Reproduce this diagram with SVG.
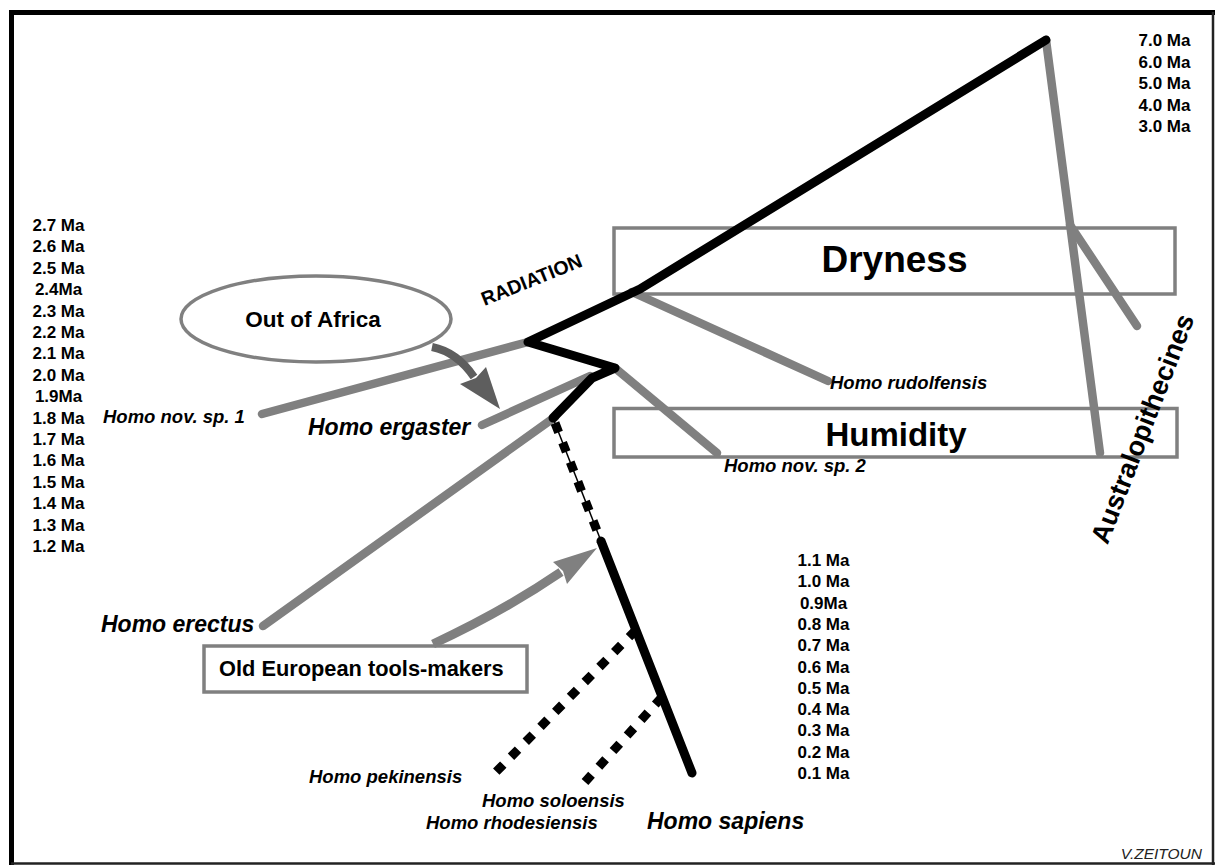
<svg xmlns="http://www.w3.org/2000/svg" width="1215" height="865" viewBox="0 0 1215 865">
<style>
.t{font-family:"Liberation Sans",Arial,Helvetica,sans-serif;font-weight:bold;fill:#000}
.d{font-size:17px;text-anchor:middle}
.i{font-style:italic}
.s{font-size:18.5px}
.l{font-size:23px}
.box{fill:#fff;stroke:#808080;stroke-width:3.5}
.g{fill:none;stroke:#808080;stroke-width:8.5;stroke-linecap:round}
.k{fill:none;stroke:#000;stroke-width:9;stroke-linecap:round;stroke-linejoin:round}
.dash{fill:none;stroke:#000;stroke-width:9;stroke-dasharray:10 11}
</style>
<rect width="1215" height="865" fill="#fff"/>
<g id="frame">
<path d="M11.5,865 L11.5,12.5 L1215,12.5" fill="none" stroke="#000" stroke-width="5"/>
<path d="M1213,12 L1213,865" stroke="#222" stroke-width="2.5"/>
<path d="M11,863.5 L1215,863.5" stroke="#222" stroke-width="2.5"/>
</g>

<g id="dates-top" class="t d">
<text x="1164.5" y="46">7.0 Ma</text>
<text x="1164.5" y="67.5">6.0 Ma</text>
<text x="1164.5" y="89">5.0 Ma</text>
<text x="1164.5" y="110.5">4.0 Ma</text>
<text x="1164.5" y="132">3.0 Ma</text>
</g>
<g id="dates-left" class="t d">
<text x="58.5" y="231">2.7 Ma</text>
<text x="58.5" y="252.4">2.6 Ma</text>
<text x="58.5" y="273.8">2.5 Ma</text>
<text x="58.5" y="295.2">2.4Ma</text>
<text x="58.5" y="316.6">2.3 Ma</text>
<text x="58.5" y="338">2.2 Ma</text>
<text x="58.5" y="359.4">2.1 Ma</text>
<text x="58.5" y="380.8">2.0 Ma</text>
<text x="58.5" y="402.2">1.9Ma</text>
<text x="58.5" y="423.6">1.8 Ma</text>
<text x="58.5" y="445">1.7 Ma</text>
<text x="58.5" y="466.4">1.6 Ma</text>
<text x="58.5" y="487.8">1.5 Ma</text>
<text x="58.5" y="509.2">1.4 Ma</text>
<text x="58.5" y="530.6">1.3 Ma</text>
<text x="58.5" y="552">1.2 Ma</text>
</g>
<g id="dates-bottom" class="t d">
<text x="823.5" y="566">1.1 Ma</text>
<text x="823.5" y="587.3">1.0 Ma</text>
<text x="823.5" y="608.6">0.9Ma</text>
<text x="823.5" y="629.9">0.8 Ma</text>
<text x="823.5" y="651.2">0.7 Ma</text>
<text x="823.5" y="672.5">0.6 Ma</text>
<text x="823.5" y="693.8">0.5 Ma</text>
<text x="823.5" y="715.1">0.4 Ma</text>
<text x="823.5" y="736.4">0.3 Ma</text>
<text x="823.5" y="757.7">0.2 Ma</text>
<text x="823.5" y="779">0.1 Ma</text>
</g>

<g id="dryness">
<rect class="box" x="614" y="228" width="561" height="66"/>
<text class="t" x="894.5" y="272" font-size="37" text-anchor="middle">Dryness</text>
</g>
<g id="humidity">
<rect class="box" x="614" y="408.5" width="563" height="48.5"/>
<text class="t" x="896" y="446" font-size="33" text-anchor="middle">Humidity</text>
</g>
<g id="out-of-africa">
<ellipse cx="316" cy="319" rx="135" ry="43" fill="#fff" stroke="#808080" stroke-width="3.5"/>
<text class="t" x="313" y="327" font-size="22.5" text-anchor="middle">Out of Africa</text>
</g>
<g id="old-european">
<rect class="box" x="204" y="646" width="323" height="46" stroke-width="4"/>
<text class="t" x="219" y="676" font-size="21.8">Old European tools-makers</text>
</g>

<g id="connectors">
<path class="g" d="M1046,40 L1100,453"/>
<path class="g" d="M1070,225 L1137,326"/>
<path class="g" d="M632,292 L828,381"/>
<path class="g" d="M615,368 L717,453"/>
<path class="g" d="M262,414 L528,342"/>
<path class="g" d="M482,425 L590,376"/>
<path class="g" d="M263,626 L555,417"/>
<path class="k" d="M1046,40 L640,289 L528,342 L615,368 L592,378 L553,418"/>
<path d="M553,418 L601,541" stroke="#000" stroke-width="1.5"/>
<path class="dash" d="M555,423 L601,541"/>
<path class="k" d="M601,541 L692,773"/>
<path class="dash" d="M636,630 L492,776"/>
<path class="dash" d="M662,697 L585,782"/>
<path d="M432,347 Q457,352 474,377" fill="none" stroke="#5e5e5e" stroke-width="8"/>
<polygon points="500,409 460,384 476,378 486,367" fill="#5e5e5e"/>
<path d="M433,644 C476,624 520,600 561,572" fill="none" stroke="#808080" stroke-width="9"/>
<polygon points="597,548 553,562 563,571 567,584" fill="#808080"/>
</g>

<g id="labels" class="t">
<text x="534" y="286" font-size="19.5" transform="rotate(-22 534 286)" text-anchor="middle">RADIATION</text>
<text x="1151" y="432" font-size="27" transform="rotate(-69 1151 432)" text-anchor="middle">Australopithecines</text>
<text class="i s" x="103" y="423">Homo nov. sp. 1</text>
<text class="i l" x="308" y="435">Homo ergaster</text>
<text class="i s" x="830" y="389">Homo rudolfensis</text>
<text class="i s" x="724" y="472">Homo nov. sp. 2</text>
<text class="i l" x="101" y="632">Homo erectus</text>
<text class="i s" x="309" y="783">Homo pekinensis</text>
<text class="i s" x="482" y="807">Homo soloensis</text>
<text class="i s" x="426" y="829">Homo rhodesiensis</text>
<text class="i l" x="647" y="829">Homo sapiens</text>
<text x="1202" y="859" font-size="15.5" font-style="italic" font-weight="normal" text-anchor="end" fill="#222">V.ZEITOUN</text>
</g>
</svg>
